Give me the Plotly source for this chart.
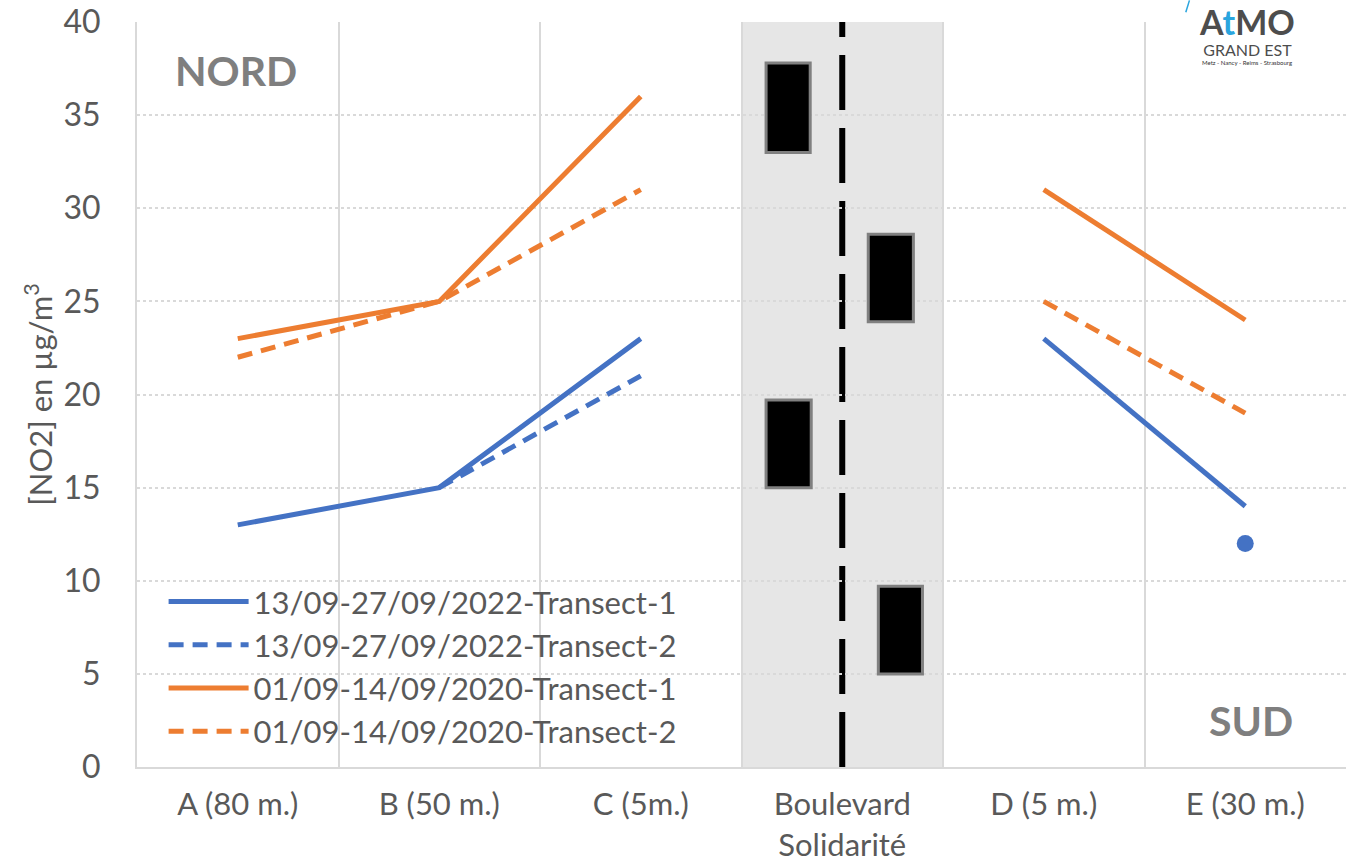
import plotly.graph_objects as go

categories = ["A (80 m.)", "B (50 m.)", "C (5m.)", "Boulevard<br>Solidarité", "D (5 m.)", "E (30 m.)"]
series_names = ["13/09-27/09/2022-Transect-1", "13/09-27/09/2022-Transect-2",
                "01/09-14/09/2020-Transect-1", "01/09-14/09/2020-Transect-2"]
blue_t1 = [13, 15, 23, None, 23, 14]
blue_t2 = [None, 15, 21, None, None, 12]
orange_t1 = [23, 25, 36, None, 31, 24]
orange_t2 = [22, 25, 31, None, 25, 19]

# decorative "cars" on the boulevard: (x offsets from boulevard centre in category units, y bottom, y top)
cars = [(-0.378, -0.159, 33.0, 37.8), (0.129, 0.353, 23.9, 28.6),
        (-0.378, -0.154, 15.0, 19.7), (0.179, 0.398, 5.0, 9.7)]

BLUE = "#4472c4"
ORANGE = "#ed7d31"
FONT = "Lato"
TXT = "#595959"

fig = go.Figure()

def isolated(vals):
    xs, ys = [], []
    for i, v in enumerate(vals):
        prev_v = vals[i - 1] if i > 0 else None
        next_v = vals[i + 1] if i < len(vals) - 1 else None
        if v is not None and prev_v is None and next_v is None:
            xs.append(categories[i])
            ys.append(v)
    return xs, ys

styles = [(blue_t1, BLUE, "solid"), (blue_t2, BLUE, "15px,9px"),
          (orange_t1, ORANGE, "solid"), (orange_t2, ORANGE, "15px,9px")]
for name, (vals, col, dash) in zip(series_names, styles):
    fig.add_trace(go.Scatter(
        x=categories, y=vals, name=name, mode="lines",
        line=dict(color=col, width=5, dash=dash),
        connectgaps=False, legendgroup=name,
    ))
    ix, iy = isolated(vals)
    if ix:
        fig.add_trace(go.Scatter(x=ix, y=iy, mode="markers", showlegend=False, legendgroup=name,
                                 marker=dict(size=17, color=col, opacity=1, line=dict(width=0))))

blv = 3
shapes = [
    dict(type="rect", xref="x", yref="paper", x0=blv - 0.5, x1=blv + 0.5, y0=0, y1=1,
         fillcolor="#e6e6e6", line=dict(width=0), layer="between"),
    dict(type="line", xref="x", yref="paper", x0=blv, x1=blv, y0=0, y1=1,
         line=dict(color="black", width=6, dash="55px,18px"), layer="between"),
    # white patch behind the logo
    dict(type="rect", xref="paper", yref="paper", x0=0.873, x1=0.965, y0=0.95, y1=1.0,
         fillcolor="white", line=dict(width=0), layer="between"),
    # small blue stroke of the logo
    dict(type="line", xref="paper", yref="paper", x0=0.8675, x1=0.8705, y0=1.013, y1=1.029,
         line=dict(color="#2aa5de", width=1.5), layer="above"),
]
for dx0, dx1, yb, yt in cars:
    shapes.append(dict(type="rect", xref="x", yref="y", x0=blv + dx0, x1=blv + dx1, y0=yb, y1=yt,
                       fillcolor="black", line=dict(color="#808080", width=3), layer="between"))

fig.update_layout(
    width=1347, height=862,
    margin=dict(l=137, r=1, t=22, b=95),
    paper_bgcolor="white", plot_bgcolor="white",
    font=dict(family=FONT, color=TXT, size=32),
    shapes=shapes,
    legend=dict(x=0.022, y=0.011, xanchor="left", yanchor="bottom",
                bgcolor="rgba(0,0,0,0)", font=dict(family=FONT, size=31, color=TXT),
                itemwidth=80, tracegroupgap=0),
    xaxis=dict(type="category", range=[-0.5, 5.5], tickson="boundaries", showgrid=True,
               gridcolor="#d9d9d9", gridwidth=2, showline=True, linecolor="#d9d9d9", linewidth=2,
               ticks="", tickfont=dict(family=FONT, size=31, color=TXT), ticklabelstandoff=9,
               automargin=False),
    yaxis=dict(range=[0, 40], dtick=5, showgrid=True, gridcolor="#d9d9d9", gridwidth=2,
               griddash="dot", showline=True, linecolor="#d9d9d9", linewidth=2, zeroline=False,
               ticks="", tickfont=dict(family=FONT, size=32, color=TXT), ticklabelstandoff=28,
               automargin=False,
               title=dict(text="[NO2] en µg/m<sup>3</sup>", font=dict(family=FONT, size=31, color=TXT),
                          standoff=2)),
)

fig.add_annotation(text="<b>NORD</b>", x=0.0295, y=0.935, xref="paper", yref="paper", showarrow=False,
                   xanchor="left", yanchor="middle", font=dict(family=FONT, size=41, color="#7f7f7f"))
fig.add_annotation(text="<b>SUD</b>", x=0.958, y=0.063, xref="paper", yref="paper", showarrow=False,
                   xanchor="right", yanchor="middle", font=dict(family=FONT, size=41, color="#7f7f7f"))

# logo
fig.add_annotation(text="<span style='font-size:34px'><b>A<span style='color:#2aa5de'>t</span>MO</b></span>"
                        "<br>GRAND EST",
                   x=0.9185, y=1.0295, xref="paper", yref="paper", showarrow=False,
                   font=dict(family=FONT, size=16, color="#4d4d4d"),
                   xanchor="center", yanchor="top", borderpad=0)
fig.add_annotation(text="Metz - Nancy - Reims - Strasbourg", x=0.9185, y=0.946, xref="paper", yref="paper",
                   showarrow=False, font=dict(family=FONT, size=6, color="#333333"),
                   xanchor="center", yanchor="middle", borderpad=0)

fig.write_html("out.html")
